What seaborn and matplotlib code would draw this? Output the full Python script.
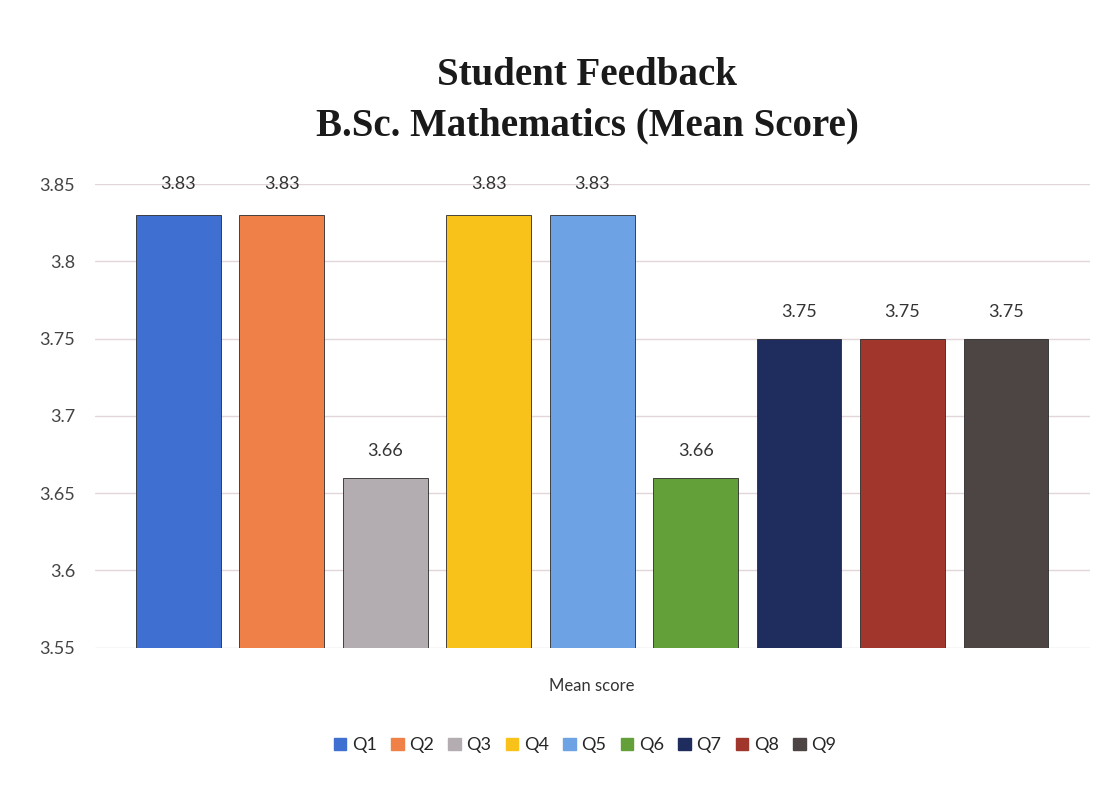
import pandas as pd
import numpy as np
import matplotlib.pyplot as plt
import seaborn as sns

questions = ['Q1', 'Q2', 'Q3', 'Q4', 'Q5', 'Q6', 'Q7', 'Q8', 'Q9']
mean_scores = [3.83, 3.83, 3.66, 3.83, 3.83, 3.66, 3.75, 3.75, 3.75]
bar_colors = ['#3f6fd0', '#ef8048', '#b3acb0', '#f8c21a', '#6da2e4',
              '#64a03a', '#1f2d5e', '#a0362c', '#4d4444']
y_ticks = [3.55, 3.6, 3.65, 3.7, 3.75, 3.8, 3.85]

data = pd.DataFrame({'Question': questions, 'Mean score': mean_scores})

sns.set_style('white')
plt.rcParams['font.family'] = ['Lato', 'DejaVu Sans']

fig = plt.figure(figsize=(11.12, 7.87), dpi=100)
ax = fig.add_axes([0.085, 0.177, 0.895, 0.589])

sns.barplot(data=data, x='Question', y='Mean score', hue='Question',
            palette=bar_colors, saturation=1, width=0.82, ax=ax, legend=False,
            edgecolor='#2a2a2a', linewidth=0.6)

# bars start from the axis floor, not from zero
ax.set_ylim(3.55, 3.85)
for p in ax.patches:
    h = p.get_y() + p.get_height()
    p.set_y(3.55)
    p.set_height(h - 3.55)
    ax.text(p.get_x() + p.get_width() / 2, 3.85 if h > 3.8 else h + 0.012,
            f'{h:.2f}', ha='center', va='bottom' if h <= 3.8 else 'center',
            fontsize=13, color='#333333')

ax.set_xlim(-0.81, 8.81)
ax.set_yticks(y_ticks)
ax.set_yticklabels([f'{t:g}' for t in y_ticks], fontsize=13, color='#444444')
ax.set_xticks([])
ax.set_xlabel('Mean score', fontsize=12, color='#333333', labelpad=22)
ax.set_ylabel('')
ax.yaxis.grid(True, color='#e3d6d8', linewidth=1)
ax.set_axisbelow(True)
ax.tick_params(axis='y', length=0, pad=14)
sns.despine(ax=ax, left=True, bottom=True)

fig.text(0.528, 0.872, 'Student Feedback\nB.Sc. Mathematics (Mean Score)',
         ha='center', va='center', fontsize=28, fontweight='bold',
         family='Liberation Serif', linespacing=1.45, color='#1a1a1a')

handles = [plt.Rectangle((0, 0), 1, 1, color=c) for c in bar_colors]
fig.legend(handles, questions, loc='center', bbox_to_anchor=(0.526, 0.053),
           ncol=9, frameon=False, fontsize=13, handlelength=0.7,
           handleheight=0.7, handletextpad=0.3, columnspacing=0.8)

fig.savefig('out.png', dpi=100)
